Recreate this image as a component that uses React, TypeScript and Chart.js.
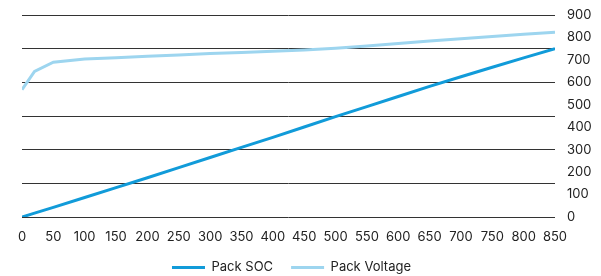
import React, { useEffect, useRef } from "react";
import { Chart, registerables } from "chart.js";

Chart.register(...registerables);

const xValues = [0, 20, 50, 100, 150, 200, 250, 300, 350, 400, 450, 500, 550, 600, 650, 700, 750, 800, 850];
const packSOC = [0, 17, 43, 87, 131, 175, 220, 265, 310, 355, 401, 447, 492, 537, 582, 625, 667, 709, 750];
const packVoltage = [567, 649, 690, 704, 710, 716, 722, 728, 733, 738, 744, 752, 762, 773, 784, 794, 804, 814, 823];
const seriesNames = ["Pack SOC", "Pack Voltage"];
const FONT = "Inter, 'Noto Sans', sans-serif";

const legendShift = {
  id: "legendShift",
  afterLayout(chart: any) {
    if (chart.legend) {
      chart.legend.left -= 9;
      chart.legend.right -= 9;
    }
  },
};

export default function App() {
  const ref = useRef<HTMLCanvasElement | null>(null);
  useEffect(() => {
    if (!ref.current) return;
    const chart = new Chart(ref.current, {
      type: "line",
      data: {
        datasets: [
          {
            label: seriesNames[0],
            data: xValues.map((x, i) => ({ x, y: packSOC[i] })),
            borderColor: "#119bd9",
            backgroundColor: "#119bd9",
            borderWidth: 3,
            pointRadius: 0,
            tension: 0,
            yAxisID: "y",
          },
          {
            label: seriesNames[1],
            data: xValues.map((x, i) => ({ x, y: packVoltage[i] })),
            borderColor: "#9dd5ef",
            backgroundColor: "#9dd5ef",
            borderWidth: 3,
            pointRadius: 0,
            tension: 0,
            yAxisID: "y",
          },
        ],
      },
      plugins: [legendShift],
      options: {
        responsive: false,
        animation: false,
        layout: { padding: { left: 0, top: 15, right: 0, bottom: -8 } },
        plugins: {
          tooltip: { enabled: false },
          legend: {
            position: "bottom",
            labels: {
              usePointStyle: true,
              pointStyle: "line",
              pointStyleWidth: 33,
              boxHeight: 13,
              padding: 18,
              color: "#222",
              font: { family: FONT, size: 13 },
            },
          },
        },
        scales: {
          x: {
            type: "linear",
            min: 0,
            max: 850,
            grid: { display: false, drawTicks: false },
            border: { display: false },
            ticks: {
              stepSize: 50,
              padding: 12,
              maxRotation: 0,
              autoSkip: false,
              color: "#222",
              font: { family: FONT, size: 13 },
            },
            afterFit: (s: any) => {
              s.height = 26;
              s.paddingLeft = 0;
              s.paddingRight = 0;
            },
          },
          y: {
            position: "right",
            min: 0,
            max: 900,
            grid: { display: false, drawTicks: false },
            border: { display: false },
            ticks: {
              stepSize: 100,
              padding: 12,
              color: "#222",
              font: { family: FONT, size: 13 },
            },
            afterFit: (s: any) => {
              s.width = 46;
              s.paddingTop = 0;
              s.paddingBottom = 0;
            },
          },
          y2: {
            position: "left",
            min: 0,
            max: 900,
            grid: { display: true, drawTicks: false, color: "#333", lineWidth: 1 },
            border: { display: false },
            ticks: { display: false, stepSize: 150 },
            afterFit: (s: any) => {
              s.width = 22;
              s.paddingTop = 0;
              s.paddingBottom = 0;
            },
          },
        },
      },
    });
    return () => chart.destroy();
  }, []);
  return (
    <div style={{ position: "absolute", left: 0, top: 0, width: 601, height: 276, background: "#fff" }}>
      <canvas ref={ref} width={601} height={276} style={{ width: 601, height: 276, display: "block" }} />
    </div>
  );
}
